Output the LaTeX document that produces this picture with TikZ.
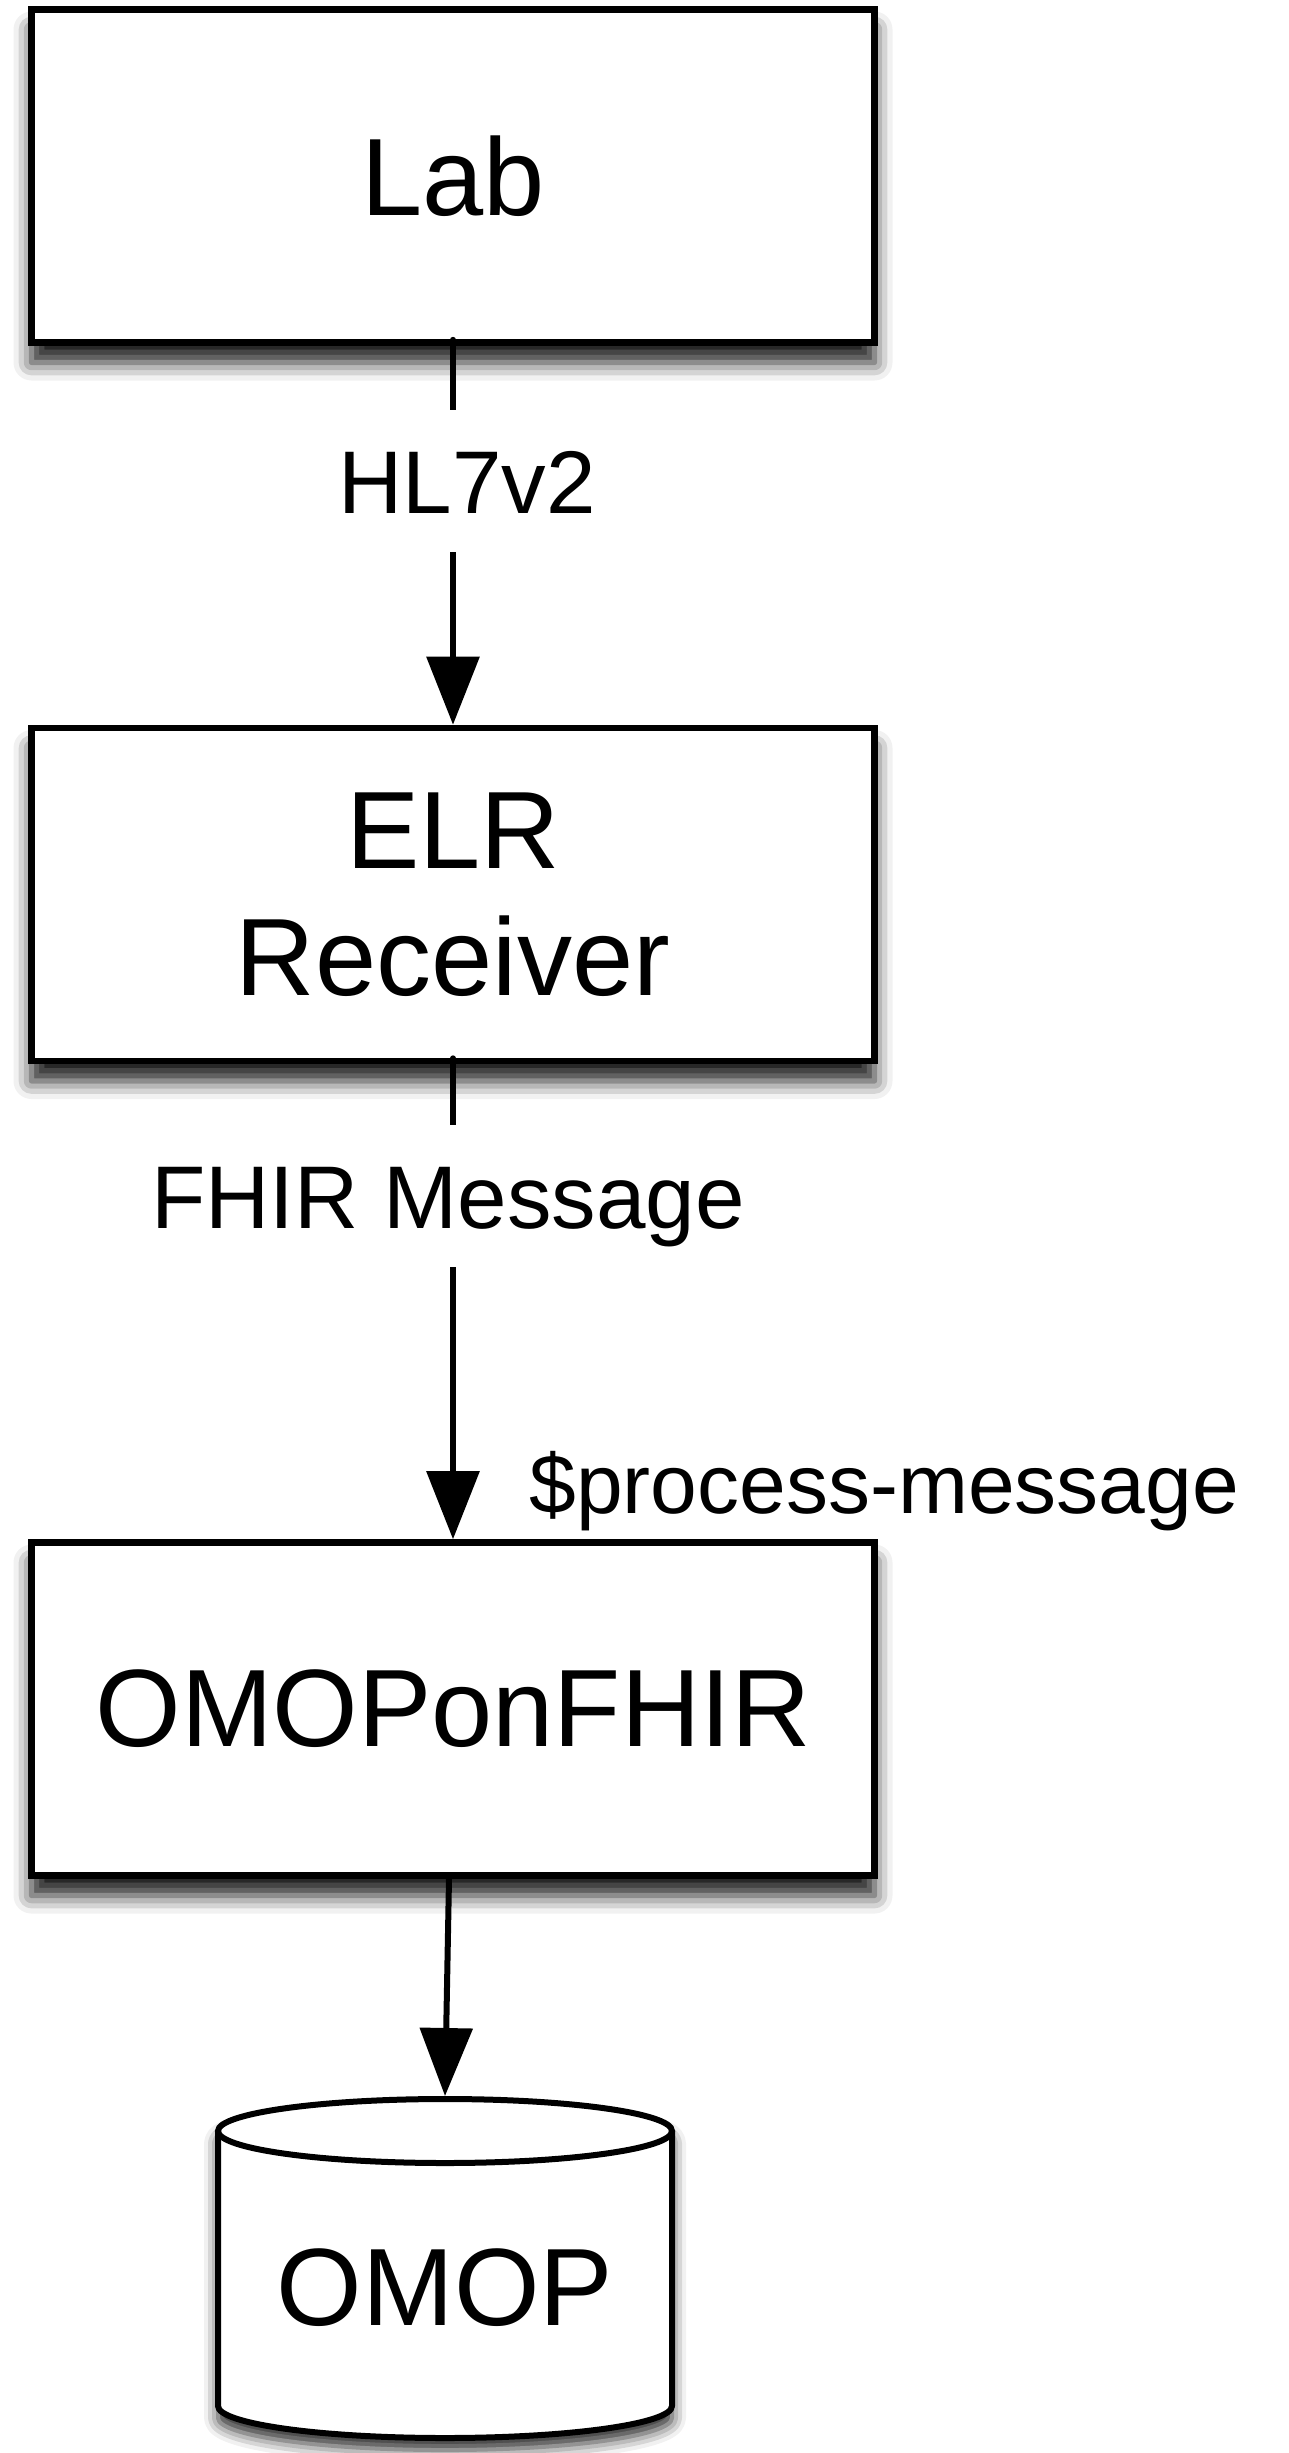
\documentclass[tikz,border=0pt]{standalone}
\usepackage{fontspec}
\setmainfont{Liberation Sans}
\usetikzlibrary{arrows.meta,shadows.blur,calc}
\begin{document}
\begin{tikzpicture}[x=0.5pt,y=-0.5pt,
  boxshadow/.style={blur shadow={shadow xshift=0pt, shadow yshift=-10pt, shadow blur radius=9pt, shadow opacity=90}},
  box/.style={draw, line width=3.3pt, fill=white, minimum width=421.5pt, minimum height=166.5pt,
    inner sep=0pt, font=\fontsize{55}{63.5}\selectfont, align=center, boxshadow},
  conn/.style={line width=3pt, line cap=round, -{Triangle[length=34pt,width=26pt,fill=black]}},
  lbl/.style={fill=white, inner xsep=4pt, inner ysep=19.5pt, text height=32pt, text depth=0pt,
    font=\fontsize{44.5}{53}\selectfont},
  cyl/.style={line width=3pt}]
\useasboundingbox (0,0) rectangle (1289,2453);

\node[box] (lab) at (453,176) {Lab};
\node[box] (elr) at (453,894.5) {ELR\\Receiver};
\node[box] (ofhir) at (453,1709) {OMOPonFHIR};

% database
\node[minimum width=231pt, minimum height=172.5pt, inner sep=0pt, outer sep=0pt] (db) at (445,2268.5) {};
\fill[white, blur shadow={shadow xshift=0pt, shadow yshift=-6pt, shadow blur radius=7pt, shadow opacity=85}]
  ($(db.north)+(-227,35)$) -- ($(db.south)+(-227,-35)$)
  arc[start angle=180, end angle=0, x radius=227, y radius=32]
  -- ($(db.north)+(227,35)$)
  arc[start angle=0, end angle=-180, x radius=227, y radius=32] -- cycle;
\draw[cyl, line join=round]
  ($(db.north)+(-227,35)$) -- ($(db.south)+(-227,-35)$)
  arc[start angle=180, end angle=0, x radius=227, y radius=32]
  -- ($(db.north)+(227,35)$);
\draw[cyl, fill=white] ($(db.north)+(0,35)$) ellipse[x radius=227, y radius=32];
\node[inner sep=0pt, text height=56.5pt, text depth=0pt, font=\fontsize{55}{63.5}\selectfont,
  minimum height=172.5pt] (dbtext) at (db.center) {OMOP};

% connectors
\draw[conn] ([yshift=3pt]lab.south) -- (elr.north);
\node[lbl] (l1) at (467,481) {HL7v2};
\draw[conn] ([yshift=3pt]elr.south) -- (ofhir.north);
\node[lbl] (l2) at (448,1196) {FHIR Message};
\node[anchor=base west, inner sep=0pt, font=\fontsize{42}{50}\selectfont] (l3) at (529,1513) {\$process-message};
\draw[conn] ([xshift=-2pt]ofhir.south) -- (db.north);
\end{tikzpicture}
\end{document}
